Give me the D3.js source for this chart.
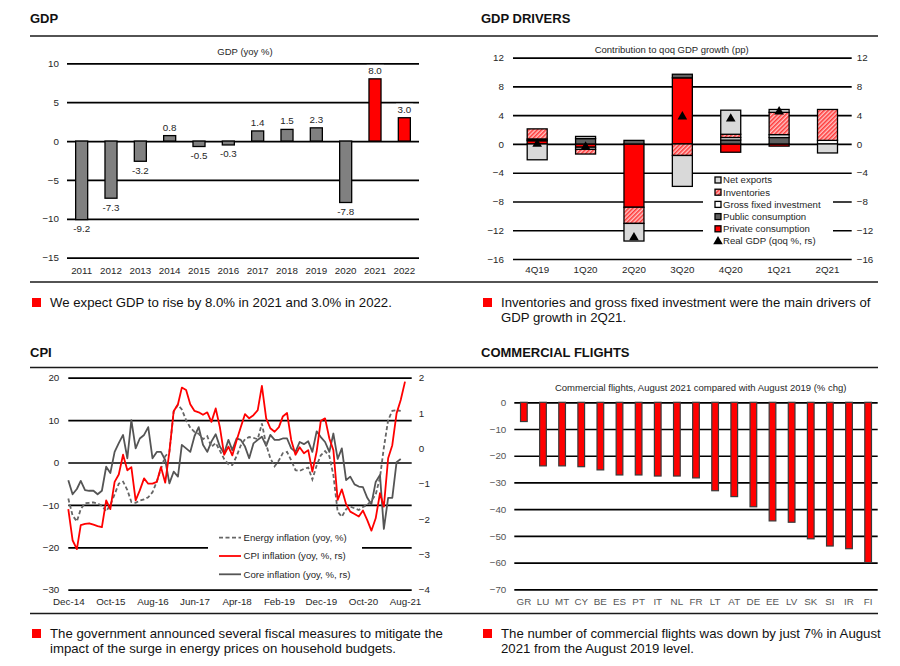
<!DOCTYPE html>
<html>
<head>
<meta charset="utf-8">
<script src="https://cdn.jsdelivr.net/npm/d3@7"></script>
<style>
  body { margin: 0; background: #fff; }
  svg { font-family: "Liberation Sans", Arial, sans-serif; }
</style>
</head>
<body>
<svg id="chart" width="900" height="666"></svg>
<script>
// ---- GDP (yoy %) ----
var gdpYears = ["2011","2012","2013","2014","2015","2016","2017","2018","2019","2020","2021","2022"];
var gdpValues = [-10.1, -7.35, -2.6, 0.7, -0.7, -0.5, 1.3, 1.5, 1.7, -7.9, 8.0, 3.0];
var gdpLabels = ["-9.2","-7.3","-3.2","0.8","-0.5","-0.3","1.4","1.5","2.3","-7.8","8.0","3.0"];
var gdpForecast = ["2021","2022"];
var gdpTicks = [-15, -10, -5, 0, 5, 10];

// ---- GDP drivers (pp) ----
var quarters = ["4Q19","1Q20","2Q20","3Q20","4Q20","1Q21","2Q21"];
var privateCons = [0.45, -0.45, -8.8, 9.2, -1.15, -0.3, 0];
var publicCons  = [0.1, 0.75, 0.5, 0.5, 0.55, 0.9, 0];
var gfi         = [0.15, -0.3, 0, 0, 0.35, 0.4, 0.5];
var inventories = [1.4, -0.65, -2.25, -1.6, 0.45, 3.1, 4.3];
var netExports  = [-2.2, 0.3, -2.45, -4.3, 3.35, 0.4, -1.25];
var realGdp     = [0.0, -0.4, -13.0, 3.8, 3.5, 4.5, null];
var driverTicks = [-16, -12, -8, -4, 0, 4, 8, 12];

// ---- CPI: monthly Dec-14 .. Aug-21 ----
var energyInfl = [-8.5,-12.5,-13.9,-11.0,-9.6,-9.5,-9.4,-9.7,-10.2,-11.5,
  -10.0,-7.5,-5.0,-4.5,-6.5,-9.3,-9.5,-9.0,-8.7,-8.2,
  -7.0,-4.5,-1.5,1.5,2.5,12.0,13.6,12.5,10.0,8.2,
  7.2,6.8,5.5,6.2,3.7,4.6,2.8,0.8,-0.4,-0.6,
  1.5,4.0,5.5,6.0,5.8,5.5,9.2,4.2,1.0,-0.9,
  0.5,2.2,2.5,0.5,-1.8,-2.0,-1.5,-1.2,-4.0,-0.7,
  1.7,2.7,1.5,-3.0,-11.6,-12.8,-11.0,-10.4,-10.8,-11.2,
  -10.5,-10.0,-9.0,-7.6,-3.5,3.5,10.0,12.2,12.3,12.2];
var cpiInfl = [-1.72,-2.6,-2.85,-2.17,-2.14,-2.12,-2.16,-2.2,-2.23,-1.47,
  -1.72,-0.95,-0.74,-0.18,-0.62,-0.53,-1.47,-1.19,-0.85,-1.0,
  -1.0,-0.95,-0.53,-0.97,-0.1,1.05,1.25,1.72,1.65,1.25,
  1.06,1.02,0.95,1.02,0.75,1.13,0.6,-0.18,0.05,-0.2,
  0.22,0.6,0.97,0.85,0.94,1.08,1.77,0.85,0.57,0.47,
  0.6,0.9,1.0,0.24,-0.18,0.03,-0.14,-0.05,-0.66,-0.09,
  0.78,0.85,0.28,-0.05,-1.46,-1.16,-1.58,-1.79,-1.86,-1.93,
  -1.76,-2.03,-2.33,-1.98,-1.27,-1.65,-0.28,0.09,0.99,1.37,1.89];
var coreInfl = [-0.9,-1.3,-1.15,-0.92,-1.18,-1.2,-1.2,-1.3,-1.2,-0.52,
  -0.7,-0.1,0.15,0.38,-0.28,0.8,0,0.28,0.38,0.6,
  -0.28,-0.1,-0.1,-0.33,-0.99,-0.66,-0.8,0.1,0,-0.1,
  0.35,0.6,0.1,-0.1,0.19,0.4,0.05,-0.14,0.24,-0.05,
  0.28,0.24,0.05,-0.28,0.14,0.24,0.33,0.07,0.38,0.24,
  0.24,0.28,0.28,0.0,-0.1,0.18,0.12,0.2,-0.1,0.48,
  0.32,0.18,-0.1,0.42,-0.3,0.0,-0.9,-0.8,-1.02,-1.08,
  -1.1,-1.4,-1.58,-0.95,-0.75,-2.28,-1.4,-1.4,-0.39,-0.3];
var cpiLeftTicks = [-30, -20, -10, 0, 10, 20];
var cpiRightTicks = [-4, -3, -2, -1, 0, 1, 2];

// ---- Commercial flights (% chg) ----
var countries = ["GR","LU","MT","CY","BE","ES","PT","IT","NL","FR","LT","AT","DE","EE","LV","SK","SI","IR","FI"];
var flightChg = [-7.2, -23.8, -23.8, -24.1, -25.3, -27.2, -27.2, -27.6, -27.6, -28.3, -33.1, -35.3, -39.1, -44.4, -44.9, -51.1, -53.8, -54.8, -60.0];
var flightTicks = [-70, -60, -50, -40, -30, -20, -10, 0];

var svg = d3.select("#chart");
var RED = "#ff0000";
var TXT = "#262626";

// hatch for inventories
var defs = svg.append("defs");
var pat = defs.append("pattern").attr("id", "hatch").attr("patternUnits", "userSpaceOnUse")
  .attr("width", 3).attr("height", 3).attr("patternTransform", "rotate(45)");
pat.append("rect").attr("width", 3).attr("height", 3).attr("fill", "#ffc4c4");
pat.append("line").attr("x1", 0.8).attr("y1", 0).attr("x2", 0.8).attr("y2", 3)
  .attr("stroke", "#ff2a2a").attr("stroke-width", 1.4);

// page furniture
function rule(y) {
  svg.append("line").attr("x1", 30).attr("x2", 878).attr("y1", y).attr("y2", y)
    .attr("stroke", "#1a1a1a").attr("stroke-width", 1.6);
}
function title(x, y, t) {
  svg.append("text").attr("x", x).attr("y", y).attr("font-size", 13).attr("font-weight", "bold")
    .attr("fill", "#111").text(t);
}
function note(x, y, lines) {
  svg.append("rect").attr("x", x + 2).attr("y", y - 9).attr("width", 9).attr("height", 9).attr("fill", RED);
  lines.forEach(function(l, i) {
    svg.append("text").attr("x", x + 20).attr("y", y + i * 15.4).attr("font-size", 13.2)
      .attr("fill", "#111").text(l);
  });
}
function subtitle(x, y, t) {
  svg.append("text").attr("x", x).attr("y", y).attr("text-anchor", "middle")
    .attr("font-size", 9.5).attr("fill", TXT).text(t);
}
function tidy(g, color) {
  g.select(".domain").remove();
  g.selectAll("text").attr("font-size", 9.8).attr("fill", color || TXT)
    .attr("font-family", "Liberation Sans, Arial, sans-serif");
  g.selectAll(".tick line").attr("stroke", "#000").attr("stroke-width", 1.7);
}

rule(36); rule(282); rule(367.5); rule(613.5);
title(30, 22.5, "GDP");
title(481, 22.5, "GDP DRIVERS");
title(30, 357.3, "CPI");
title(481, 357.3, "COMMERCIAL FLIGHTS");
note(30, 307, ["We expect GDP to rise by 8.0% in 2021 and 3.0% in 2022."]);
note(481, 307, ["Inventories and gross fixed investment were the main drivers of", "GDP growth in 2Q21."]);
note(30, 638, ["The government announced several fiscal measures to mitigate the", "impact of the surge in energy prices on household budgets."]);
note(481, 638, ["The number of commercial flights was down by just 7% in August", "2021 from the August 2019 level."]);

// ================= GDP =================
(function() {
  var x = d3.scaleBand().domain(gdpYears).range([67, 419]).paddingInner(0.59).paddingOuter(0.295);
  var y = d3.scaleLinear().domain([-15, 10]).range([257.7, 63.3]);
  subtitle(245, 55, "GDP (yoy %)");
  var ga = svg.append("g").attr("transform", "translate(67,0)")
    .call(d3.axisLeft(y).tickValues(gdpTicks).tickSize(-352).tickPadding(8));
  tidy(ga);
  var gb = svg.append("g").attr("transform", "translate(0,257.7)")
    .call(d3.axisBottom(x).tickSize(0).tickPadding(9));
  tidy(gb);
  svg.append("g").selectAll("rect").data(gdpYears).enter().append("rect")
    .attr("x", function(d) { return x(d); })
    .attr("width", x.bandwidth())
    .attr("y", function(d, i) { return y(Math.max(0, gdpValues[i])); })
    .attr("height", function(d, i) { return Math.abs(y(gdpValues[i]) - y(0)); })
    .attr("fill", function(d) { return gdpForecast.indexOf(d) >= 0 ? RED : "#808080"; })
    .attr("stroke", "#000").attr("stroke-width", 1.3);
  var lg = svg.append("g");
  gdpYears.forEach(function(d, i) {
    var v = gdpValues[i];
    var ty = v >= 0 ? y(v) - 5 : y(v) + 12.5;
    var t = lg.append("text").attr("x", x(d) + x.bandwidth() / 2).attr("y", ty)
      .attr("text-anchor", "middle").attr("font-size", 9.8).attr("fill", TXT).text(gdpLabels[i]);
    var b = t.node().getBBox();
    lg.insert("rect", "text").attr("x", b.x - 1.5).attr("y", b.y).attr("width", b.width + 3)
      .attr("height", b.height).attr("fill", "#fff");
  });
})();

// ================= GDP DRIVERS =================
(function() {
  var x = d3.scaleBand().domain(quarters).range([513, 851.7]).paddingInner(0.587).paddingOuter(0.2935);
  var y = d3.scaleLinear().domain([-16, 12]).range([259, 57.7]);
  subtitle(671.7, 52.5, "Contribution to qoq GDP growth (pp)");
  var ga = svg.append("g").attr("transform", "translate(513,0)")
    .call(d3.axisLeft(y).tickValues(driverTicks).tickSize(-338.7).tickPadding(9));
  tidy(ga);
  var gr = svg.append("g").attr("transform", "translate(851.7,0)")
    .call(d3.axisRight(y).tickValues(driverTicks).tickSize(0).tickPadding(5));
  tidy(gr);
  var gb = svg.append("g").attr("transform", "translate(0,259)")
    .call(d3.axisBottom(x).tickSize(0).tickPadding(7.5));
  tidy(gb);

  // legend background breaks the grid
  svg.append("rect").attr("x", 703).attr("y", 175).attr("width", 130).attr("height", 74).attr("fill", "#fff");

  var keys = ["private", "public", "gfi", "inventories", "netExports"];
  var fills = { "private": RED, "public": "#606060", "gfi": "#ffffff", "inventories": "url(#hatch)", "netExports": "#d9d9d9" };
  var rows = quarters.map(function(q, i) {
    return { q: q, "private": privateCons[i], "public": publicCons[i], gfi: gfi[i], inventories: inventories[i], netExports: netExports[i] };
  });
  var series = d3.stack().keys(keys).offset(d3.stackOffsetDiverging)(rows);
  svg.append("g").selectAll("g").data(series).enter().append("g")
    .attr("fill", function(s) { return fills[s.key]; })
    .selectAll("rect").data(function(s) { return s.filter(function(p) { return p[1] !== p[0]; }); })
    .enter().append("rect")
    .attr("x", function(p) { return x(p.data.q); })
    .attr("width", x.bandwidth())
    .attr("y", function(p) { return y(Math.max(p[0], p[1])); })
    .attr("height", function(p) { return Math.abs(y(p[0]) - y(p[1])); })
    .attr("stroke", "#000").attr("stroke-width", 1.3);

  var tri = d3.symbol().type(d3.symbolTriangle).size(40);
  svg.append("g").selectAll("path").data(quarters.filter(function(q, i) { return realGdp[i] != null; }))
    .enter().append("path")
    .attr("d", tri)
    .attr("fill", "#000")
    .attr("transform", function(q) {
      return "translate(" + (x(q) + x.bandwidth() / 2) + "," + y(realGdp[quarters.indexOf(q)]) + ")";
    });

  var legend = [
    { label: "Net exports", fill: "#d9d9d9" },
    { label: "Inventories", fill: "url(#hatch)" },
    { label: "Gross fixed investment", fill: "#ffffff" },
    { label: "Public consumption", fill: "#606060" },
    { label: "Private consumption", fill: RED },
    { label: "Real GDP (qoq %, rs)", fill: null }
  ];
  legend.forEach(function(l, i) {
    var cy = 180 + i * 12.2;
    if (l.fill) {
      svg.append("rect").attr("x", 715).attr("y", cy - 3).attr("width", 6).attr("height", 6)
        .attr("fill", l.fill).attr("stroke", "#000").attr("stroke-width", 1.3);
    } else {
      svg.append("path").attr("d", d3.symbol().type(d3.symbolTriangle).size(40))
        .attr("transform", "translate(718," + (cy + 0.5) + ")").attr("fill", "#000");
    }
    svg.append("text").attr("x", 723).attr("y", cy).attr("dy", "0.35em")
      .attr("font-size", 9.6).attr("fill", TXT).text(l.label);
  });
})();

// ================= CPI =================
(function() {
  var months = d3.timeMonth.range(new Date(2014, 11, 1), new Date(2021, 8, 2));
  var x = d3.scaleTime().domain([months[0], months[months.length - 1]]).range([68.3, 409.3]);
  var yL = d3.scaleLinear().domain([-30, 20]).range([589.7, 377.7]);
  var yR = d3.scaleLinear().domain([-4, 2]).range([589.7, 377.7]);

  var ga = svg.append("g").attr("transform", "translate(68.3,0)")
    .call(d3.axisLeft(yL).tickValues(cpiLeftTicks).tickSize(-343.4).tickPadding(9));
  tidy(ga);
  var gr = svg.append("g").attr("transform", "translate(411.7,0)")
    .call(d3.axisRight(yR).tickValues(cpiRightTicks).tickFormat(d3.format("d")).tickSize(0).tickPadding(7));
  tidy(gr);
  var tickDates = months.filter(function(d, i) { return i % 10 === 0; });
  var gb = svg.append("g").attr("transform", "translate(0,589.7)")
    .call(d3.axisBottom(x).tickValues(tickDates).tickFormat(d3.timeFormat("%b-%y")).tickSize(0).tickPadding(8.5));
  tidy(gb);

  svg.append("rect").attr("x", 208).attr("y", 528).attr("width", 154).attr("height", 56).attr("fill", "#fff");

  function path(vals, yS) {
    return d3.line()
      .defined(function(v) { return v != null; })
      .x(function(v, i) { return x(months[i]); })
      .y(function(v) { return yS(v); })(vals);
  }
  svg.append("path").attr("d", path(coreInfl, yR)).attr("fill", "none")
    .attr("stroke", "#555555").attr("stroke-width", 1.8).attr("stroke-linejoin", "round");
  svg.append("path").attr("d", path(energyInfl, yL)).attr("fill", "none")
    .attr("stroke", "#666666").attr("stroke-width", 1.8).attr("stroke-dasharray", "4,2.5");
  svg.append("path").attr("d", path(cpiInfl, yR)).attr("fill", "none")
    .attr("stroke", RED).attr("stroke-width", 1.8).attr("stroke-linejoin", "round");

  var legend = [
    { label: "Energy inflation (yoy, %)", color: "#666666", dash: "4,2.5" },
    { label: "CPI inflation (yoy, %, rs)", color: RED, dash: null },
    { label: "Core inflation (yoy, %, rs)", color: "#555555", dash: null }
  ];
  legend.forEach(function(l, i) {
    var cy = 537.7 + i * 18.3;
    svg.append("line").attr("x1", 219).attr("x2", 241).attr("y1", cy).attr("y2", cy)
      .attr("stroke", l.color).attr("stroke-width", 1.8).attr("stroke-dasharray", l.dash);
    svg.append("text").attr("x", 243.5).attr("y", cy).attr("dy", "0.35em")
      .attr("font-size", 9.6).attr("fill", TXT).text(l.label);
  });
})();

// ================= COMMERCIAL FLIGHTS =================
(function() {
  var x = d3.scaleBand().domain(countries).range([514.3, 877.7]).paddingInner(0.65).paddingOuter(0.325);
  var y = d3.scaleLinear().domain([-70, 0]).range([589.3, 402.3]);
  subtitle(700.7, 391, "Commercial flights, August 2021 compared with August 2019 (% chg)");
  var ga = svg.append("g").attr("transform", "translate(514.3,0)")
    .call(d3.axisLeft(y).tickValues(flightTicks).tickSize(-363.4).tickPadding(8));
  tidy(ga, "#555");
  var gb = svg.append("g").attr("transform", "translate(0,589.3)")
    .call(d3.axisBottom(x).tickSize(0).tickPadding(9));
  tidy(gb, "#555");
  svg.append("g").selectAll("rect").data(countries).enter().append("rect")
    .attr("x", function(d) { return x(d); })
    .attr("width", x.bandwidth())
    .attr("y", y(0))
    .attr("height", function(d, i) { return y(flightChg[i]) - y(0); })
    .attr("fill", RED).attr("stroke", "#3a3a3a").attr("stroke-width", 1.2);
})();
</script>
</body>
</html>
